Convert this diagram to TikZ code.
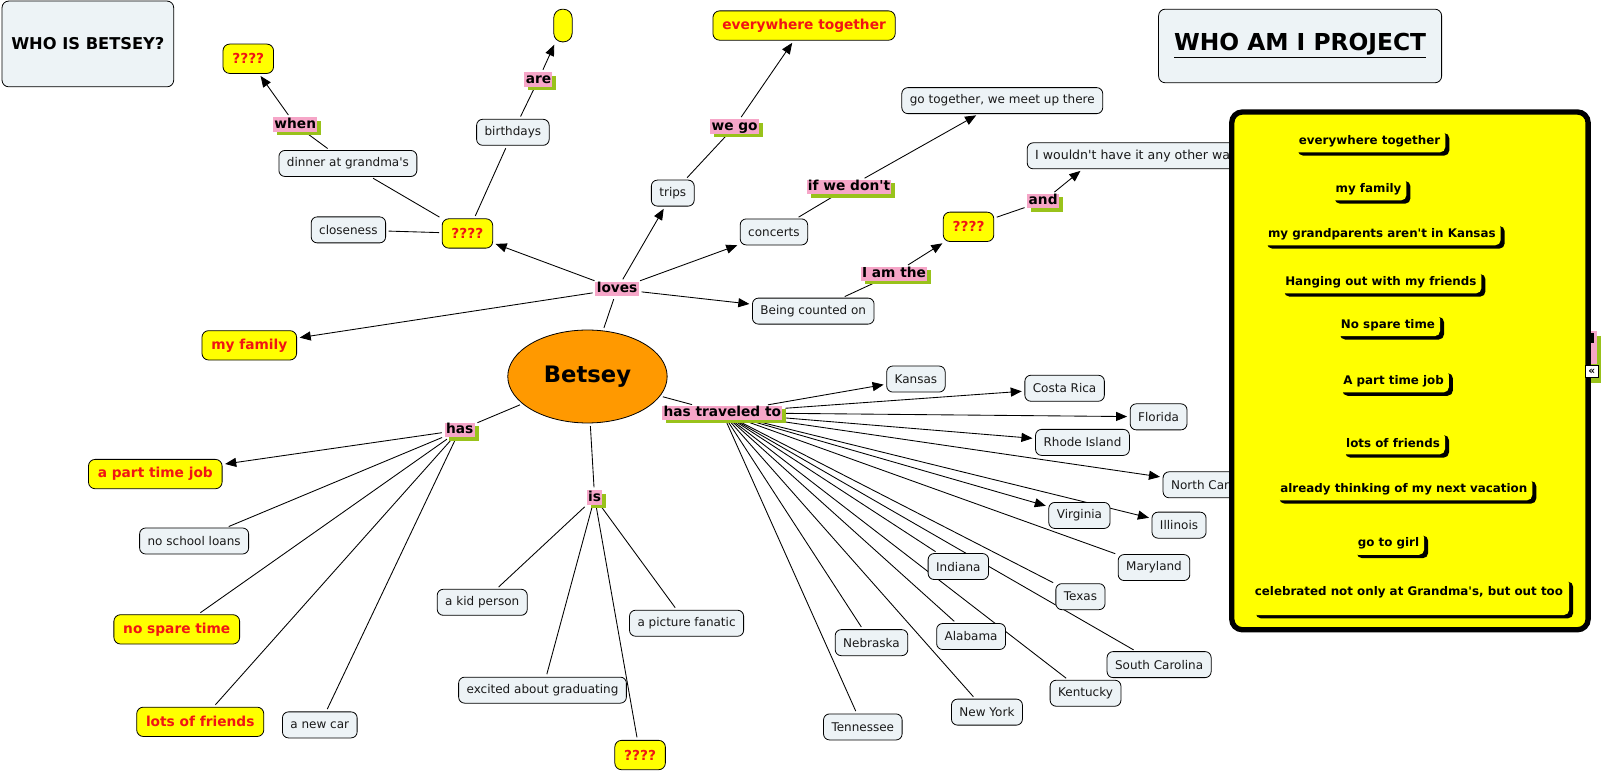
\documentclass[tikz,border=0pt]{standalone}
\usepackage{fontspec}
\setmainfont{DejaVu Sans}
\usetikzlibrary{shapes.geometric,arrows.meta,shadows,backgrounds}
\definecolor{boxfill}{RGB}{237,243,246}
\definecolor{yel}{RGB}{255,255,0}
\definecolor{redtxt}{RGB}{240,20,20}
\definecolor{pinkl}{RGB}{246,166,200}
\definecolor{greenl}{RGB}{153,194,27}
\definecolor{orng}{RGB}{255,153,0}
\definecolor{txt}{RGB}{25,25,25}
\newcommand{\apos}{\textquotesingle}
\tikzset{
  concept/.style={draw=black, line width=0.6pt, fill=boxfill, rounded corners=4.5pt,
    inner xsep=6pt, inner ysep=0pt, minimum height=19.5pt,
    font=\fontsize{9}{10}\selectfont, text=txt},
  ynode/.style={draw=black, line width=0.6pt, fill=yel, rounded corners=5pt,
    inner xsep=7pt, inner ysep=0pt, minimum height=22pt,
    font=\fontsize{10.3}{12}\selectfont\bfseries, text=redtxt},
  lab/.style={fill=pinkl, inner xsep=1pt, inner ysep=0.5pt, text height=7.6pt, text depth=2.2pt,
    font=\fontsize{10.3}{12}\selectfont\bfseries, text=black},
  labg/.style={lab, drop shadow={fill=greenl, opacity=1, shadow xshift=3pt, shadow yshift=-2.5pt}},
  pitem/.style={fill=yel, rounded corners=4pt, inner xsep=3.8pt, inner ysep=0pt, minimum height=17pt,
    font=\fontsize{8.9}{10}\selectfont\bfseries, text=black,
    drop shadow={fill=black, opacity=1, shadow xshift=3pt, shadow yshift=-2.5pt}},
  titlebox/.style={draw=black, line width=0.6pt, fill=boxfill, rounded corners=5pt, text=black},
  conn/.style={line width=0.65pt, shorten <=2pt, shorten >=2pt},
  arr/.style={conn, -{Triangle[length=8.3pt,width=6.8pt]}}
}
\begin{document}
\begin{tikzpicture}[x=0.766pt, y=-0.766pt]
\useasboundingbox (0,0) rectangle (1568,754.6);

% titles
\node[titlebox, minimum width=128.7pt, minimum height=64.3pt, font=\fontsize{12.2}{14}\selectfont\bfseries] (whob) at (86,43) {WHO IS BETSEY?};
\node[titlebox, minimum width=212.2pt, minimum height=55.2pt, font=\fontsize{17.5}{20}\selectfont\bfseries] (whoam) at (1272.5,45) {\underline{WHO AM I PROJECT}};

% central
\node[ellipse, draw=black, line width=0.6pt, fill=orng, minimum width=119.5pt, minimum height=69.7pt, font=\fontsize{17}{20}\selectfont\bfseries] (betsey) at (575,368.5) {Betsey};

% labels
\node[lab] (loves) at (604,283) {loves};
\node[labg] (when) at (289,122) {when};
\node[labg] (are) at (527,78) {are};
\node[labg] (wego) at (719,124) {we go};
\node[labg] (ifwd) at (831,183) {if we don\apos t};
\node[labg] (iamthe) at (875,268) {I am the};
\node[labg] (andl) at (1021,197) {and};
\node[labg] (has) at (450,421) {has};
\node[labg] (is) at (582,487) {is};
\node[labg] (ht) at (707,404) {has traveled to};

% yellow nodes
\node[ynode] (qtl) at (243,57.5) {????};
\node[ynode, minimum width=13.8pt, minimum height=24.5pt, inner xsep=0pt, rounded corners=6.5pt] (tiny) at (551,25) {};
\node[ynode] (evt) at (787,25) {everywhere together};
\node[ynode] (q1) at (457.5,228.5) {????};
\node[ynode] (q2) at (948,222) {????};
\node[ynode] (myfam) at (244,338) {my family};
\node[ynode] (ptj) at (152,464) {a part time job};
\node[ynode] (nst) at (173,616) {no spare time};
\node[ynode] (lof) at (196,706.5) {lots of friends};
\node[ynode] (q3) at (626.5,739) {????};

% concept nodes
\node[concept] (close) at (341,225) {closeness};
\node[concept] (dinner) at (340.5,160) {dinner at grandma\apos s};
\node[concept] (bday) at (502,129.5) {birthdays};
\node[concept] (trips) at (658.5,189) {trips};
\node[concept] (conc) at (757.5,227) {concerts};
\node[concept] (gotog) at (981,98.5) {go together, we meet up there};
\node[concept, anchor=west, font=\fontsize{9.4}{10}\selectfont] (iwould) at (1005,152.5) {I wouldn\apos t have it any other way};
\node[concept] (bco) at (796,304.5) {Being counted on};
\node[concept] (nsl) at (190,529.5) {no school loans};
\node[concept] (newcar) at (313,709.5) {a new car};
\node[concept] (kid) at (472,589.5) {a kid person};
\node[concept] (excited) at (531,675.5) {excited about graduating};
\node[concept] (pic) at (672,610) {a picture fanatic};

% states
\node[concept] (kansas) at (896.5,371) {Kansas};
\node[concept] (costa) at (1042,380) {Costa Rica};
\node[concept] (florida) at (1134,408) {Florida};
\node[concept] (rhode) at (1059.5,433) {Rhode Island};
\node[concept, anchor=west] (ncar) at (1138,474.5) {North Carolina};
\node[concept] (virginia) at (1056.5,504.5) {Virginia};
\node[concept] (illinois) at (1154,514) {Illinois};
\node[concept] (maryland) at (1129.5,555.5) {Maryland};
\node[concept] (indiana) at (938,554.5) {Indiana};
\node[concept] (texas) at (1057.5,584) {Texas};
\node[concept] (nebraska) at (853,629) {Nebraska};
\node[concept] (alabama) at (950.5,623) {Alabama};
\node[concept] (scar) at (1134.5,650.5) {South Carolina};
\node[concept] (kentucky) at (1062.5,678.5) {Kentucky};
\node[concept] (newyork) at (966,697) {New York};
\node[concept] (tennessee) at (844.5,711.5) {Tennessee};

% connectors
\begin{pgfonlayer}{background}
\fill[white] (0,0) rectangle (1568,754.6);
\draw[conn] (betsey) -- (loves);
\draw[arr] (loves) -- (myfam);
\draw[arr] (loves) -- (q1);
\draw[arr] (loves) -- (trips);
\draw[arr] (loves) -- (conc);
\draw[arr] (loves) -- (bco);
\draw[conn] (q1) -- (close);
\draw[conn] (q1) -- (dinner);
\draw[conn] (q1) -- (bday);
\draw[conn] (dinner) -- (when);
\draw[arr] (when) -- (qtl);
\draw[conn] (bday) -- (are);
\draw[arr] (are) -- (tiny);
\draw[conn] (trips) -- (wego);
\draw[arr] (wego) -- (evt);
\draw[conn] (conc) -- (ifwd);
\draw[arr] (ifwd) -- (gotog);
\draw[conn] (bco) -- (iamthe);
\draw[arr] (iamthe) -- (q2);
\draw[conn] (q2) -- (andl);
\draw[arr] (andl) -- (iwould.194);
\draw[conn] (betsey) -- (has);
\draw[arr] (has) -- (ptj);
\draw[conn] (has) -- (nsl);
\draw[conn] (has) -- (nst);
\draw[conn] (has) -- (lof);
\draw[conn] (has) -- (newcar);
\draw[conn] (betsey) -- (is);
\draw[conn] (is) -- (kid);
\draw[conn] (is) -- (excited);
\draw[conn] (is) -- (q3);
\draw[conn] (is) -- (pic);
\draw[conn] (betsey) -- (ht);
\draw[arr] (ht) -- (kansas);
\draw[arr] (ht) -- (costa);
\draw[arr] (ht) -- (florida);
\draw[arr] (ht) -- (rhode);
\draw[arr] (ht) -- (ncar);
\draw[arr] (ht) -- (virginia);
\draw[arr] (ht) -- (illinois);
\draw[conn] (ht) -- (maryland);
\draw[conn] (ht) -- (indiana);
\draw[conn] (ht) -- (texas);
\draw[conn] (ht) -- (nebraska);
\draw[conn] (ht) -- (alabama);
\draw[conn] (ht) -- (scar);
\draw[conn] (ht) -- (kentucky);
\draw[conn] (ht) -- (newyork);
\draw[conn] (ht) -- (tennessee);
\end{pgfonlayer}

% hidden label sliver behind the panel
\fill[greenl] (1557,329) rectangle (1567,375);
\fill[pinkl] (1554,324) rectangle (1563,356);
\fill[black] (1554,326) rectangle (1560,336);

% yellow panel
\node[draw=black, line width=4pt, fill=yel, rounded corners=8pt, minimum width=267.2pt, minimum height=388.2pt, inner sep=0pt] (panel) at (1380,363) {};
\node[pitem] (p1) at (1340.5,138) {everywhere together};
\node[pitem] (p2) at (1339.5,185) {my family};
\node[pitem] (p3) at (1352.5,229) {my grandparents aren\apos t in Kansas};
\node[pitem] (p4) at (1351.5,276) {Hanging out with my friends};
\node[pitem] (p5) at (1358.5,318) {No spare time};
\node[pitem] (p6) at (1364,373) {A part time job};
\node[pitem] (p7) at (1363.5,433.6) {lots of friends};
\node[pitem] (p8) at (1374,478.6) {already thinking of my next vacation};
\node[pitem] (p9) at (1359,532) {go to girl};
\node[pitem, minimum width=238pt, minimum height=27.6pt] (p10box) at (1380.5,584) {};
\node[font=\fontsize{8.9}{10}\selectfont\bfseries, inner sep=0pt] (p10) at (1379,580) {celebrated not only at Grandma\apos s, but out too};

% collapse marker
\node[draw=black, line width=0.5pt, fill=white, minimum width=9.2pt, minimum height=8.4pt, inner sep=0pt, font=\fontsize{8}{8}\selectfont\bfseries] (coll) at (1558,363.5) {«};
\end{tikzpicture}
\end{document}
